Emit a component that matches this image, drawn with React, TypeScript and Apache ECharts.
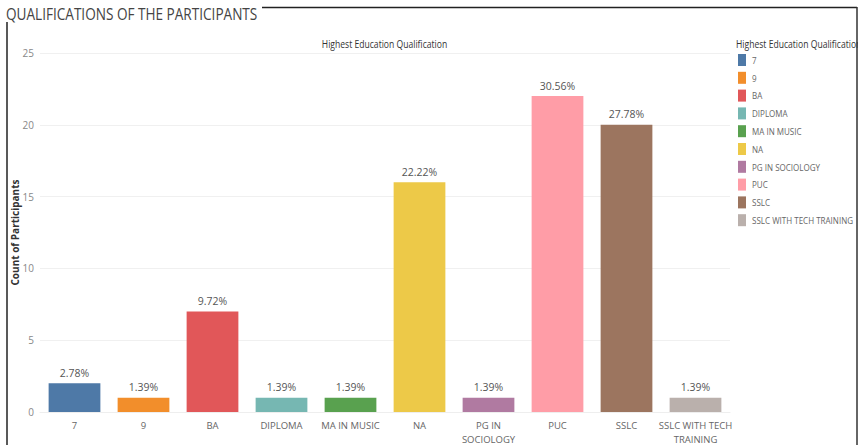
import React, { useEffect, useRef } from "react";
import * as echarts from "echarts";

const categories = ["7", "9", "BA", "DIPLOMA", "MA IN MUSIC", "NA", "PG IN SOCIOLOGY", "PUC", "SSLC", "SSLC WITH TECH TRAINING"];
const axisLabels = ["7", "9", "BA", "DIPLOMA", "MA IN MUSIC", "NA", "PG IN\nSOCIOLOGY", "PUC", "SSLC", "SSLC WITH TECH\nTRAINING"];
const counts = [2, 1, 7, 1, 1, 16, 1, 22, 20, 1];
const percentLabels = ["2.78%", "1.39%", "9.72%", "1.39%", "1.39%", "22.22%", "1.39%", "30.56%", "27.78%", "1.39%"];
const colors = ["#4e79a7", "#f28e2b", "#e15759", "#76b7b2", "#59a14f", "#edc948", "#b07aa1", "#ff9da7", "#9c755f", "#bab0ac"];
const yTicks = [0, 5, 10, 15, 20, 25];

const FONT = "'Open Sans', sans-serif";

export default function App() {
  const ref = useRef<HTMLDivElement>(null);
  useEffect(() => {
    if (!ref.current) return;
    const chart = echarts.init(ref.current, undefined, { renderer: "svg" });
    const series = categories.map((name, i) => ({
      name,
      type: "bar",
      stack: "all",
      barWidth: "75%",
      itemStyle: { color: colors[i] },
      data: categories.map((_, j) => (j === i ? counts[j] : "-")),
      label: {
        show: true,
        position: "top",
        distance: 5,
        fontFamily: FONT,
        fontSize: 10.5,
        color: "#555",
        formatter: () => percentLabels[i],
      },
    }));

    const legendItems: any[] = [];
    categories.forEach((name, i) => {
      const cy = 60 + i * 17.8;
      legendItems.push({
        type: "rect",
        shape: { x: 738, y: cy - 6, width: 8, height: 12 },
        style: { fill: colors[i] },
      });
      legendItems.push({
        type: "text",
        x: 752,
        y: cy,
        scaleX: 0.82,
        originX: 0,
        style: { text: name, fontFamily: FONT, fontSize: 9.8, fill: "#666", verticalAlign: "middle" },
      });
    });

    chart.setOption({
      animation: false,
      textStyle: { fontFamily: FONT },
      grid: { left: 40, right: 136, top: 53, bottom: 33, outerBoundsMode: "none", containLabel: false },
      xAxis: {
        type: "category",
        data: categories,
        axisLine: { show: true, lineStyle: { color: "#eeeeee" } },
        axisTick: { show: false },
        axisLabel: {
          interval: 0,
          margin: 6,
          fontFamily: FONT,
          fontSize: 9.5,
          color: "#666",
          lineHeight: 14,
          formatter: (_v: string, idx: number) => axisLabels[idx],
        },
      },
      yAxis: {
        type: "value",
        min: yTicks[0],
        max: yTicks[yTicks.length - 1],
        interval: 5,
        name: "Count of Participants",
        nameLocation: "middle",
        nameGap: 20,
        nameMoveOverlap: false,
        nameTextStyle: { fontFamily: FONT, fontSize: 10, fontWeight: "bold", color: "#333" },
        axisLine: { show: false },
        axisTick: { show: false },
        axisLabel: { fontFamily: FONT, fontSize: 10, color: "#888", margin: 6 },
        splitLine: { lineStyle: { color: "#f0f0f0" } },
      },
      graphic: [
        ...legendItems,
        {
          type: "text",
          x: 736,
          y: 44,
          scaleX: 0.86,
          originX: 0,
          style: { text: "Highest Education Qualification", fontFamily: FONT, fontSize: 10, fill: "#333", verticalAlign: "middle" },
        },
        { type: "rect", shape: { x: 858, y: 0, width: 8, height: 445 }, style: { fill: "#fff" } },
        { type: "line", shape: { x1: 7, y1: 7.5, x2: 857, y2: 7.5 }, style: { stroke: "#222", lineWidth: 1.5 } },
        { type: "line", shape: { x1: 7, y1: 7, x2: 7, y2: 445 }, style: { stroke: "#222", lineWidth: 1.5 } },
        { type: "line", shape: { x1: 857, y1: 7, x2: 857, y2: 445 }, style: { stroke: "#333", lineWidth: 1.5 } },
        { type: "rect", shape: { x: 0, y: 0, width: 262, height: 22 }, style: { fill: "#fff" } },
        {
          type: "text",
          x: 6,
          y: 14,
          scaleX: 0.8,
          originX: 0,
          style: { text: "QUALIFICATIONS OF THE PARTICIPANTS", fontFamily: FONT, fontSize: 17, fill: "#444", verticalAlign: "middle" },
        },
        {
          type: "text",
          x: 384.5,
          y: 44,
          scaleX: 0.86,
          originX: 0,
          style: { text: "Highest Education Qualification", fontFamily: FONT, fontSize: 10, fill: "#333", align: "center", verticalAlign: "middle" },
        },
      ],
      series,
    });
    return () => chart.dispose();
  }, []);
  return <div ref={ref} style={{ width: 866, height: 445, position: "absolute", left: 0, top: 0 }} />;
}
